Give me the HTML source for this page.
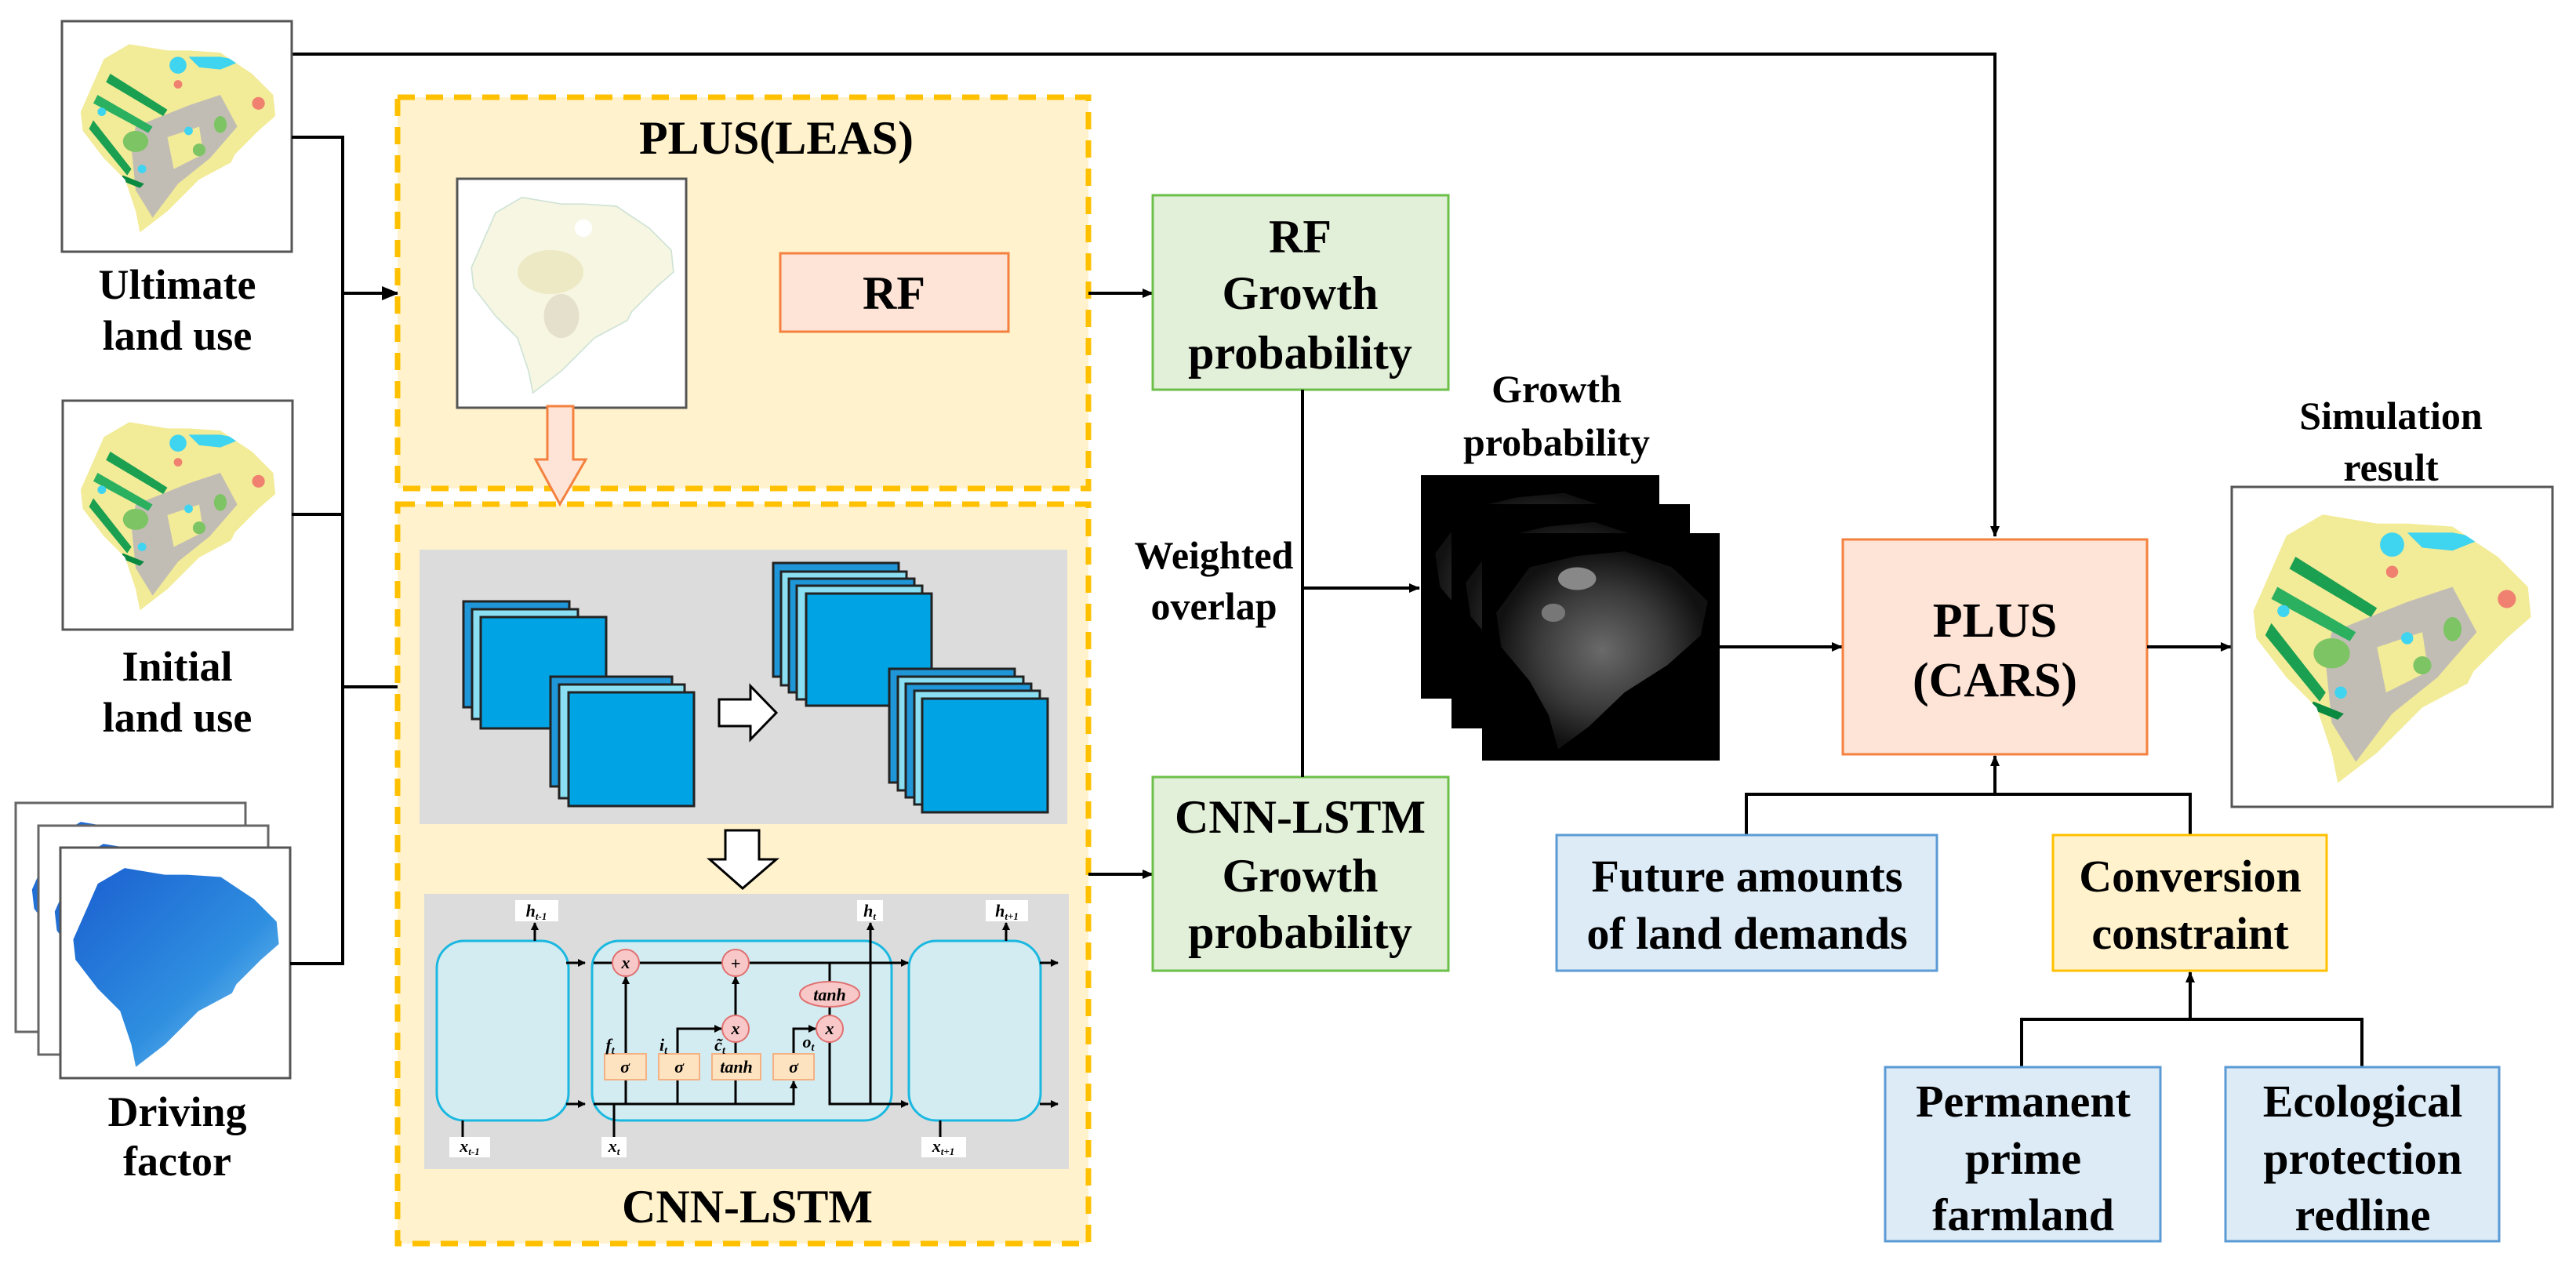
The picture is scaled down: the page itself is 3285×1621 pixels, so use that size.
<!DOCTYPE html>
<html><head><meta charset="utf-8"><style>
html,body{margin:0;padding:0;background:#fff;}
svg{display:block;}
text{font-family:"Liberation Serif",serif;font-weight:bold;fill:#000;}
.it{font-style:italic;}
</style></head><body>
<svg width="3285" height="1621" viewBox="0 0 3285 1621" xmlns="http://www.w3.org/2000/svg">
<defs>
<marker id="ar" markerWidth="10" markerHeight="10" refX="9" refY="5" orient="auto" markerUnits="userSpaceOnUse" viewBox="0 0 10 10"><path d="M0,0 L10,5 L0,10 z" fill="#000"/></marker>
<marker id="ar2" markerWidth="22" markerHeight="22" refX="20" refY="11" orient="auto" markerUnits="userSpaceOnUse" viewBox="0 0 22 22"><path d="M0,2 L22,11 L0,20 z" fill="#000"/></marker>
<marker id="ar3" markerWidth="14" markerHeight="14" refX="13" refY="7" orient="auto" markerUnits="userSpaceOnUse" viewBox="0 0 14 14"><path d="M0,1 L14,7 L0,13 z" fill="#000"/></marker>
<clipPath id="mc" clipPathUnits="objectBoundingBox"><path d="M0.04,0.38 L0.15,0.13 L0.27,0.06 L0.45,0.09 L0.55,0.09 L0.7,0.1 L0.85,0.2 L0.95,0.3 L0.96,0.4 L0.88,0.47 L0.77,0.58 L0.75,0.62 L0.6,0.7 L0.45,0.85 L0.32,0.95 L0.3,0.85 L0.25,0.7 L0.15,0.6 L0.05,0.47 Z"/></clipPath>
<symbol id="map" viewBox="0 0 100 100" preserveAspectRatio="none">
<g clip-path="url(#mcu)">
<path d="M4,38 L15,13 L27,6 L45,9 L55,9 L70,10 L85,20 L95,30 L96,40 L88,47 L77,58 L75,62 L60,70 L45,85 L32,95 L30,85 L25,70 L15,60 L5,47 Z" fill="#f2eb98"/>
<path d="M30,45 L55,35 L70,30 L78,45 L65,60 L50,72 L38,88 L30,75 L28,55 Z" fill="#c2bdb4"/>
<path d="M45,50 L60,45 L62,58 L48,65 Z" fill="#f2eb98"/>
<ellipse cx="30" cy="52" rx="6" ry="5" fill="#7cc464"/>
<ellipse cx="70" cy="44" rx="3" ry="4" fill="#7cc464"/>
<ellipse cx="60" cy="56" rx="3" ry="3" fill="#7cc464"/>
<path d="M18,20 L45,37 L43,40 L16,24 Z" fill="#1aa050"/>
<path d="M12,30 L38,45 L36,48 L10,34 Z" fill="#2bb060"/>
<path d="M10,42 L28,65 L26,68 L8,46 Z" fill="#1aa050"/>
<path d="M24,68 L34,72 L32,74 L22,70 Z" fill="#0a8a40"/>
<ellipse cx="50" cy="16" rx="4" ry="4" fill="#3fd4f0"/>
<path d="M55,12 L70,12 L80,14 L70,18 L60,17 Z" fill="#3fd4f0"/>
<ellipse cx="14" cy="38" rx="2" ry="2" fill="#3fd4f0"/>
<ellipse cx="55" cy="47" rx="2" ry="2" fill="#3fd4f0"/>
<ellipse cx="88" cy="34" rx="3" ry="3" fill="#f08070"/>
<ellipse cx="50" cy="25" rx="2" ry="2" fill="#f08070"/>
<ellipse cx="33" cy="65" rx="2" ry="2" fill="#3fd4f0"/>
</g>
</symbol>
<clipPath id="mcu"><path d="M4,38 L15,13 L27,6 L45,9 L55,9 L70,10 L85,20 L95,30 L96,40 L88,47 L77,58 L75,62 L60,70 L45,85 L32,95 L30,85 L25,70 L15,60 L5,47 Z"/></clipPath>
<symbol id="map2" viewBox="0 0 100 100" preserveAspectRatio="none">
<path d="M4,38 L15,13 L27,6 L45,9 L55,9 L70,10 L85,20 L95,30 L96,40 L88,47 L77,58 L75,62 L60,70 L45,85 L32,95 L30,85 L25,70 L15,60 L5,47 Z" fill="#f7f6e2" stroke="#cfe3d6" stroke-width="0.6"/>
<ellipse cx="40" cy="40" rx="15" ry="10" fill="#ece9c4"/>
<ellipse cx="45" cy="60" rx="8" ry="10" fill="#e5e0cc"/>
<ellipse cx="55" cy="20" rx="4" ry="4" fill="#fff"/>
</symbol>
<linearGradient id="bl" x1="0" y1="0" x2="1" y2="1"><stop offset="0" stop-color="#1a5fd0"/><stop offset="0.6" stop-color="#2f8fe0"/><stop offset="1" stop-color="#8fd0f5"/></linearGradient>
<symbol id="dmap" viewBox="0 0 100 100" preserveAspectRatio="none">
<path d="M4,38 L15,13 L27,6 L45,9 L55,9 L70,10 L85,20 L95,30 L96,40 L88,47 L77,58 L75,62 L60,70 L45,85 L32,95 L30,85 L25,70 L15,60 L5,47 Z" fill="url(#bl)"/>
</symbol>
<radialGradient id="gr"><stop offset="0" stop-color="#6a6a6a"/><stop offset="0.6" stop-color="#3a3a3a"/><stop offset="1" stop-color="#111"/></radialGradient>
<symbol id="gmap" viewBox="0 0 100 100" preserveAspectRatio="none">
<rect width="100" height="100" fill="#000"/>
<path d="M6,35 L20,15 L40,10 L60,8 L80,15 L95,30 L92,45 L78,58 L60,70 L45,85 L32,95 L28,80 L20,65 L8,50 Z" fill="url(#gr)"/>
<ellipse cx="40" cy="20" rx="8" ry="5" fill="#888"/>
<ellipse cx="30" cy="35" rx="5" ry="4" fill="#777"/>
</symbol>
</defs>

<!-- top line -->
<polyline points="372,69 2544,69 2544,684" fill="none" stroke="#000" stroke-width="4" marker-end="url(#ar3)"/>

<!-- left inputs -->
<rect x="79" y="27" width="293" height="294" fill="#fff" stroke="#555" stroke-width="3"/>
<use href="#map" x="92" y="40" width="270" height="270"/>
<text x="226" y="381" font-size="54" text-anchor="middle">Ultimate</text>
<text x="226" y="446" font-size="54" text-anchor="middle">land use</text>

<rect x="80" y="511" width="293" height="292" fill="#fff" stroke="#555" stroke-width="3"/>
<use href="#map" x="92" y="522" width="270" height="270"/>
<text x="226" y="868" font-size="54" text-anchor="middle">Initial</text>
<text x="226" y="933" font-size="54" text-anchor="middle">land use</text>

<rect x="20" y="1024" width="293" height="292" fill="#fff" stroke="#666" stroke-width="3"/>
<use href="#dmap" x="30" y="1032" width="270" height="270"/>
<rect x="49" y="1053" width="293" height="292" fill="#fff" stroke="#666" stroke-width="3"/>
<use href="#dmap" x="59" y="1060" width="270" height="270"/>
<rect x="77" y="1081" width="293" height="294" fill="#fff" stroke="#555" stroke-width="3"/>
<use href="#dmap" x="82" y="1090" width="285" height="285"/>
<text x="226" y="1436" font-size="54" text-anchor="middle">Driving</text>
<text x="226" y="1499" font-size="54" text-anchor="middle">factor</text>

<polyline points="372,175 437,175 437,1229 370,1229" fill="none" stroke="#000" stroke-width="4"/>
<line x1="372" y1="656" x2="437" y2="656" stroke="#000" stroke-width="4"/>
<line x1="437" y1="374" x2="507" y2="374" stroke="#000" stroke-width="4" marker-end="url(#ar2)"/>
<line x1="437" y1="876" x2="533" y2="876" stroke="#000" stroke-width="4" marker-end="url(#ar2)"/>

<!-- PLUS(LEAS) box -->
<rect x="507" y="124" width="881" height="499" fill="#fff2cc" stroke="#ffc000" stroke-width="7" stroke-dasharray="22,14"/>
<text x="990" y="196" font-size="60" text-anchor="middle">PLUS(LEAS)</text>
<rect x="583" y="228" width="292" height="292" fill="#fff" stroke="#555" stroke-width="3"/>
<use href="#map2" x="590" y="235" width="280" height="280"/>
<rect x="995" y="323" width="291" height="100" fill="#fde4d6" stroke="#f4813f" stroke-width="3"/>
<text x="1140" y="394" font-size="60" text-anchor="middle">RF</text>

<!-- CNN-LSTM box -->
<rect x="507" y="643" width="881" height="943" fill="#fff2cc" stroke="#ffc000" stroke-width="7" stroke-dasharray="22,14"/>
<path d="M698,518 L731,518 L731,586 L747,586 L714,643 L683,586 L698,586 Z" fill="#fde4d6" stroke="#f4813f" stroke-width="3"/>
<rect x="535" y="701" width="826" height="350" fill="#dcdcdc"/>

<!-- stacks -->
<g stroke="#222" stroke-width="3">
<rect x="591" y="767" width="135" height="135" fill="#1e96d8"/>
<rect x="602" y="777" width="135" height="140" fill="#8ae0f2"/>
<rect x="613" y="787" width="160" height="142" fill="#00a3e3"/>
<rect x="702" y="863" width="155" height="140" fill="#1e96d8"/>
<rect x="713" y="873" width="160" height="145" fill="#8ae0f2"/>
<rect x="725" y="883" width="160" height="145" fill="#00a3e3"/>
<rect x="986" y="718" width="160" height="145" fill="#1e96d8"/>
<rect x="996" y="729" width="160" height="145" fill="#8ae0f2"/>
<rect x="1006" y="738" width="160" height="145" fill="#1e96d8"/>
<rect x="1016" y="747" width="160" height="145" fill="#8ae0f2"/>
<rect x="1028" y="757" width="160" height="143" fill="#00a3e3"/>
<rect x="1134" y="853" width="160" height="145" fill="#1e96d8"/>
<rect x="1145" y="863" width="160" height="145" fill="#8ae0f2"/>
<rect x="1155" y="872" width="160" height="145" fill="#1e96d8"/>
<rect x="1166" y="881" width="160" height="145" fill="#8ae0f2"/>
<rect x="1176" y="891" width="160" height="145" fill="#00a3e3"/>
</g>
<path d="M917,892 L957,892 L957,875 L990,909 L957,943 L957,926 L917,926 Z" fill="#fff" stroke="#000" stroke-width="3"/>
<path d="M925,1059 L968,1059 L968,1096 L990,1096 L947,1133 L905,1096 L925,1096 Z" fill="#fff" stroke="#000" stroke-width="3"/>

<!-- LSTM panel -->
<rect x="541" y="1140" width="822" height="351" fill="#dcdcdc"/>
<g fill="#d3ecf2" stroke="#1ab8e0" stroke-width="3">
<rect x="557" y="1200" width="168" height="229" rx="35"/>
<rect x="755" y="1200" width="382" height="229" rx="35"/>
<rect x="1159" y="1200" width="168" height="229" rx="35"/>
</g>
<g stroke="#000" stroke-width="3" fill="none">
<line x1="722" y1="1228" x2="746" y2="1228" marker-end="url(#ar)"/>
<line x1="722" y1="1408" x2="746" y2="1408" marker-end="url(#ar)"/>
<line x1="1326" y1="1228" x2="1349" y2="1228" marker-end="url(#ar)"/>
<line x1="1326" y1="1408" x2="1349" y2="1408" marker-end="url(#ar)"/>
<line x1="757" y1="1228" x2="1158" y2="1228" marker-end="url(#ar)"/>
<polyline points="757,1408 1012,1408 1012,1379" marker-end="url(#ar)"/>
<line x1="798" y1="1408" x2="798" y2="1246" marker-end="url(#ar)"/>
<polyline points="864,1408 864,1312 920,1312" marker-end="url(#ar)"/>
<line x1="938" y1="1408" x2="938" y2="1329"/>
<line x1="938" y1="1295" x2="938" y2="1246" marker-end="url(#ar)"/>
<polyline points="1012,1344 1012,1312 1040,1312" marker-end="url(#ar)"/>
<line x1="1058" y1="1228" x2="1058" y2="1296"/>
<polyline points="1058,1329 1058,1408 1158,1408" marker-end="url(#ar)"/>
<line x1="1110" y1="1408" x2="1110" y2="1177" marker-end="url(#ar)"/>
<line x1="682" y1="1200" x2="682" y2="1177" marker-end="url(#ar)"/>
<line x1="1283" y1="1200" x2="1283" y2="1177" marker-end="url(#ar)"/>
<line x1="590" y1="1429" x2="590" y2="1450"/>
<line x1="783" y1="1408" x2="783" y2="1450"/>
<line x1="1199" y1="1429" x2="1199" y2="1450"/>
</g>
<g fill="#f8c8c8" stroke="#e07070" stroke-width="2">
<ellipse cx="798" cy="1228" rx="17" ry="17"/>
<ellipse cx="938" cy="1228" rx="17" ry="17"/>
<ellipse cx="938" cy="1312" rx="17" ry="17"/>
<ellipse cx="1058" cy="1312" rx="17" ry="17"/>
<ellipse cx="1058" cy="1268" rx="38" ry="16"/>
</g>
<g fill="#fde3c0" stroke="#f4b183" stroke-width="2">
<rect x="771" y="1344" width="53" height="33"/>
<rect x="840" y="1344" width="52" height="33"/>
<rect x="908" y="1344" width="62" height="33"/>
<rect x="986" y="1344" width="52" height="33"/>
</g>
<g font-size="22" text-anchor="middle" class="it">
<text x="798" y="1235" class="it">x</text>
<text x="938" y="1236">+</text>
<text x="938" y="1319" class="it">x</text>
<text x="1058" y="1319" class="it">x</text>
<text x="1058" y="1276" class="it">tanh</text>
<text x="797" y="1368" class="it">σ</text>
<text x="866" y="1368" class="it">σ</text>
<text x="939" y="1368" class="it">tanh</text>
<text x="1012" y="1368" class="it">σ</text>
<text x="778" y="1340" class="it">f<tspan font-size="14" dy="4">t</tspan></text>
<text x="846" y="1340" class="it">i<tspan font-size="14" dy="4">t</tspan></text>
<text x="918" y="1340" class="it">c̃<tspan font-size="14" dy="4">t</tspan></text>
<text x="1031" y="1336" class="it">o<tspan font-size="14" dy="4">t</tspan></text>
</g>
<g fill="#fff">
<rect x="657" y="1148" width="55" height="27"/><rect x="1093" y="1148" width="33" height="27"/><rect x="1257" y="1148" width="54" height="27"/>
<rect x="573" y="1450" width="52" height="26"/><rect x="767" y="1450" width="32" height="26"/><rect x="1175" y="1450" width="57" height="26"/>
</g>
<g font-size="22" text-anchor="middle">
<text x="684" y="1169" class="it">h<tspan font-size="13" dy="4">t-1</tspan></text>
<text x="1109" y="1169" class="it">h<tspan font-size="13" dy="4">t</tspan></text>
<text x="1284" y="1169" class="it">h<tspan font-size="13" dy="4">t+1</tspan></text>
<text x="599" y="1469" class="it">x<tspan font-size="13" dy="4">t-1</tspan></text>
<text x="783" y="1469" class="it">x<tspan font-size="13" dy="4">t</tspan></text>
<text x="1203" y="1469" class="it">x<tspan font-size="13" dy="4">t+1</tspan></text>
</g>
<text x="953" y="1559" font-size="60" text-anchor="middle">CNN-LSTM</text>

<!-- growth boxes -->
<line x1="1388" y1="374" x2="1470" y2="374" stroke="#000" stroke-width="4" marker-end="url(#ar3)"/>
<line x1="1388" y1="1115" x2="1470" y2="1115" stroke="#000" stroke-width="4" marker-end="url(#ar3)"/>
<rect x="1470" y="249" width="377" height="248" fill="#e2f0d9" stroke="#6cc04a" stroke-width="3"/>
<text x="1658" y="322" font-size="60" text-anchor="middle">RF</text>
<text x="1658" y="394" font-size="60" text-anchor="middle">Growth</text>
<text x="1658" y="470" font-size="60" text-anchor="middle">probability</text>
<rect x="1470" y="991" width="377" height="247" fill="#e2f0d9" stroke="#6cc04a" stroke-width="3"/>
<text x="1658" y="1062" font-size="60" text-anchor="middle">CNN-LSTM</text>
<text x="1658" y="1137" font-size="60" text-anchor="middle">Growth</text>
<text x="1658" y="1209" font-size="60" text-anchor="middle">probability</text>
<line x1="1661" y1="497" x2="1661" y2="991" stroke="#000" stroke-width="4"/>
<line x1="1661" y1="750" x2="1810" y2="750" stroke="#000" stroke-width="4" marker-end="url(#ar3)"/>
<text x="1548" y="725" font-size="50" text-anchor="middle">Weighted</text>
<text x="1548" y="790" font-size="50" text-anchor="middle">overlap</text>
<text x="1985" y="513" font-size="50" text-anchor="middle">Growth</text>
<text x="1985" y="581" font-size="50" text-anchor="middle">probability</text>
<use href="#gmap" x="1812" y="606" width="304" height="285"/>
<use href="#gmap" x="1851" y="643" width="304" height="286"/>
<use href="#gmap" x="1890" y="680" width="303" height="290"/>

<line x1="2193" y1="825" x2="2349" y2="825" stroke="#000" stroke-width="4" marker-end="url(#ar3)"/>
<rect x="2350" y="688" width="388" height="274" fill="#fde4d6" stroke="#f4813f" stroke-width="3"/>
<text x="2544" y="812" font-size="62" text-anchor="middle">PLUS</text>
<text x="2544" y="888" font-size="62" text-anchor="middle">(CARS)</text>
<line x1="2738" y1="825" x2="2845" y2="825" stroke="#000" stroke-width="4" marker-end="url(#ar3)"/>
<text x="3049" y="547" font-size="50" text-anchor="middle">Simulation</text>
<text x="3049" y="613" font-size="50" text-anchor="middle">result</text>
<rect x="2846" y="621" width="409" height="408" fill="#fff" stroke="#555" stroke-width="3"/>
<use href="#map" x="2858" y="633" width="385" height="385"/>

<polyline points="2227,1065 2227,1013 2793,1013 2793,1065" fill="none" stroke="#000" stroke-width="4"/>
<line x1="2544" y1="1013" x2="2544" y2="964" stroke="#000" stroke-width="4" marker-end="url(#ar3)"/>
<rect x="1985" y="1065" width="485" height="173" fill="#ddebf7" stroke="#5b9bd5" stroke-width="3"/>
<text x="2228" y="1137" font-size="58" text-anchor="middle">Future amounts</text>
<text x="2228" y="1210" font-size="58" text-anchor="middle">of land demands</text>
<rect x="2618" y="1065" width="349" height="173" fill="#fff2cc" stroke="#ffc000" stroke-width="3"/>
<text x="2793" y="1137" font-size="58" text-anchor="middle">Conversion</text>
<text x="2793" y="1210" font-size="58" text-anchor="middle">constraint</text>
<polyline points="2578,1361 2578,1300 3012,1300 3012,1361" fill="none" stroke="#000" stroke-width="4"/>
<line x1="2793" y1="1300" x2="2793" y2="1240" stroke="#000" stroke-width="4" marker-end="url(#ar3)"/>
<rect x="2404" y="1361" width="351" height="222" fill="#ddebf7" stroke="#5b9bd5" stroke-width="3"/>
<text x="2580" y="1424" font-size="58" text-anchor="middle">Permanent</text>
<text x="2580" y="1497" font-size="58" text-anchor="middle">prime</text>
<text x="2580" y="1569" font-size="58" text-anchor="middle">farmland</text>
<rect x="2838" y="1361" width="349" height="222" fill="#ddebf7" stroke="#5b9bd5" stroke-width="3"/>
<text x="3013" y="1424" font-size="58" text-anchor="middle">Ecological</text>
<text x="3013" y="1497" font-size="58" text-anchor="middle">protection</text>
<text x="3013" y="1569" font-size="58" text-anchor="middle">redline</text>
</svg>
</body></html>
